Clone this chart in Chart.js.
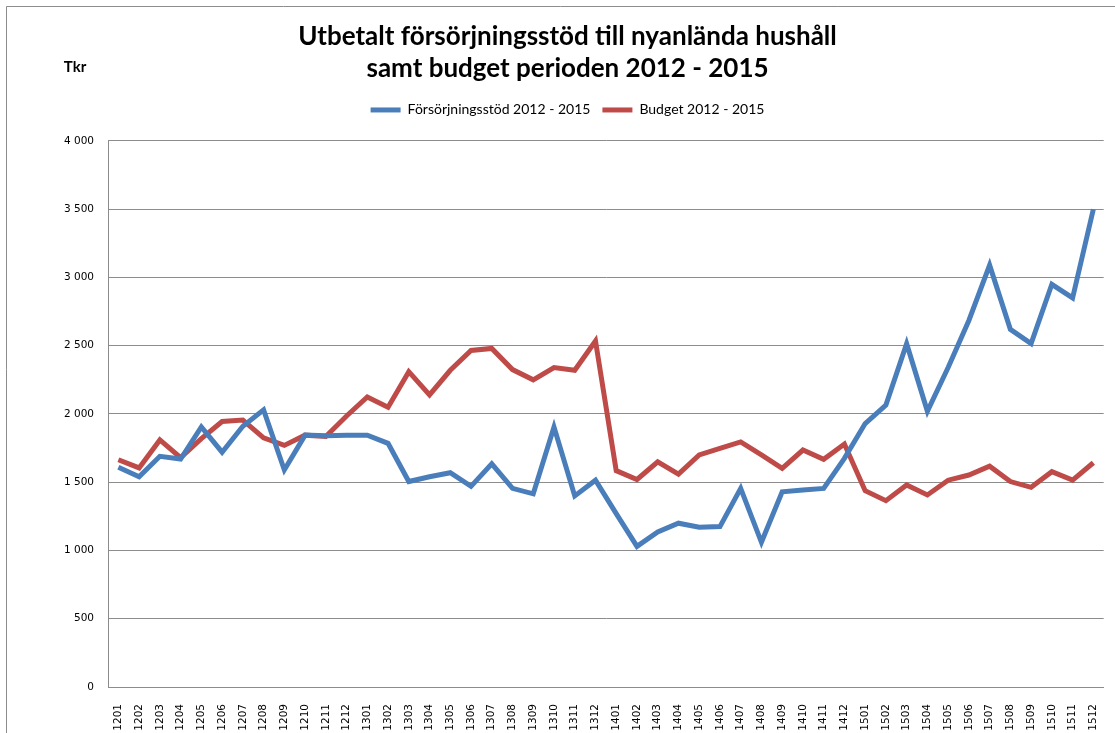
<!DOCTYPE html>
<html>
<head>
<meta charset="utf-8">
<script src="https://cdn.jsdelivr.net/npm/chart.js@4/dist/chart.umd.min.js"></script>
<style>
  html, body { margin: 0; padding: 0; background: #fff; }
  #wrap { width: 1115px; height: 733px; }
</style>
</head>
<body>
<div id="wrap"><canvas id="lineChart" width="1115" height="733"></canvas></div>
<script>
const months = [
  "1201", "1202", "1203", "1204", "1205", "1206", "1207", "1208", "1209", "1210", "1211", "1212",
  "1301", "1302", "1303", "1304", "1305", "1306", "1307", "1308", "1309", "1310", "1311", "1312",
  "1401", "1402", "1403", "1404", "1405", "1406", "1407", "1408", "1409", "1410", "1411", "1412",
  "1501", "1502", "1503", "1504", "1505", "1506", "1507", "1508", "1509", "1510", "1511", "1512",
];

// Tkr per month
const forsorjningsstod = [
  1610, 1540, 1690, 1670, 1905, 1720, 1910, 2030, 1590, 1845, 1840, 1845,
  1845, 1785, 1505, 1540, 1570, 1470, 1635, 1455, 1415, 1905, 1400, 1515,
  1270, 1030, 1135, 1200, 1170, 1175, 1455, 1060, 1430, 1443, 1455, 1675,
  1930, 2065, 2515, 2020, 2340, 2685, 3090, 2620, 2515, 2950, 2850, 3500,
];

const budget = [
  1665, 1605, 1810, 1680, 1820, 1945, 1955, 1825, 1770, 1845, 1835, 1985,
  2125, 2050, 2310, 2140, 2320, 2465, 2480, 2325, 2250, 2340, 2320, 2535,
  1585, 1520, 1650, 1560, 1700, 1748, 1795, 1700, 1602, 1736, 1668, 1780,
  1438, 1365, 1480, 1407, 1515, 1553, 1618, 1505, 1463, 1577, 1515, 1643,
];

const yTicks = { min: 0, max: 4000, step: 500 };

const BLUE = "#4a7ebb";
const RED = "#be4b48";

function spaced(v) {
  return String(v).replace(/\B(?=(\d{3})+(?!\d))/g, " ");
}

// extra room under the legend
const legendSpacer = {
  id: "legendSpacer",
  beforeInit(chart) {
    const fit = chart.legend.fit;
    chart.legend.fit = function () {
      fit.bind(chart.legend)();
      this.height += 14;
    };
  },
};

// frame + "Tkr" label
const decorations = {
  id: "decorations",
  afterDraw(chart) {
    const c = chart.ctx;
    c.save();
    c.strokeStyle = "#8c8c8c";
    c.lineWidth = 1;
    c.beginPath();
    c.moveTo(6.5, 733);
    c.lineTo(6.5, 6.5);
    c.lineTo(1115, 6.5);
    c.stroke();
    c.fillStyle = "#000";
    c.font = "bold 15px Lato";
    c.textAlign = "center";
    c.textBaseline = "middle";
    c.fillText("Tkr", 75, 67);
    c.restore();
  },
};

const ctx = document.getElementById("lineChart").getContext("2d");
new Chart(ctx, {
  type: "line",
  data: {
    labels: months,
    datasets: [
      {
        label: "Försörjningsstöd 2012 - 2015",
        data: forsorjningsstod,
        borderColor: BLUE,
        backgroundColor: BLUE,
        borderWidth: 5,
        pointRadius: 0,
        fill: false,
        tension: 0,
      },
      {
        label: "Budget 2012 - 2015",
        data: budget,
        borderColor: RED,
        backgroundColor: RED,
        borderWidth: 5,
        pointRadius: 0,
        fill: false,
        tension: 0,
      },
    ],
  },
  options: {
    responsive: false,
    animation: false,
    layout: { padding: { left: 26, right: 6, top: 0, bottom: 0 } },
    plugins: {
      title: {
        display: true,
        text: ["Utbetalt försörjningsstöd till nyanlända hushåll", "samt budget perioden 2012 - 2015"],
        color: "#000",
        font: { family: "Lato", size: 26, weight: "bold", lineHeight: 1.23 },
        padding: { top: 21, bottom: 6 },
      },
      legend: {
        display: true,
        labels: {
          usePointStyle: true,
          pointStyle: "line",
          pointStyleWidth: 30,
          color: "#000",
          font: { family: "Lato", size: 14 },
          padding: 12,
        },
      },
      tooltip: { enabled: false },
    },
    scales: {
      x: {
        offset: true,
        grid: { display: false },
        border: { display: true, color: "#8c8c8c", width: 1 },
        ticks: {
          autoSkip: false,
          maxRotation: 90,
          minRotation: 90,
          padding: 9,
          color: "#000",
          font: { family: "DejaVu Sans", size: 10.5 },
        },
        afterFit(scale) {
          scale.height = 46;
        },
      },
      y: {
        min: yTicks.min,
        max: yTicks.max,
        grid: { color: "#8c8c8c", lineWidth: 1, drawTicks: false },
        border: { display: true, color: "#8c8c8c", width: 1 },
        ticks: {
          stepSize: yTicks.step,
          padding: 14,
          color: "#000",
          font: { family: "DejaVu Sans", size: 10.5 },
          callback: (v) => spaced(v),
        },
        afterFit(scale) {
          scale.width = 82;
        },
      },
    },
  },
  plugins: [legendSpacer, decorations],
});
</script>
</body>
</html>
